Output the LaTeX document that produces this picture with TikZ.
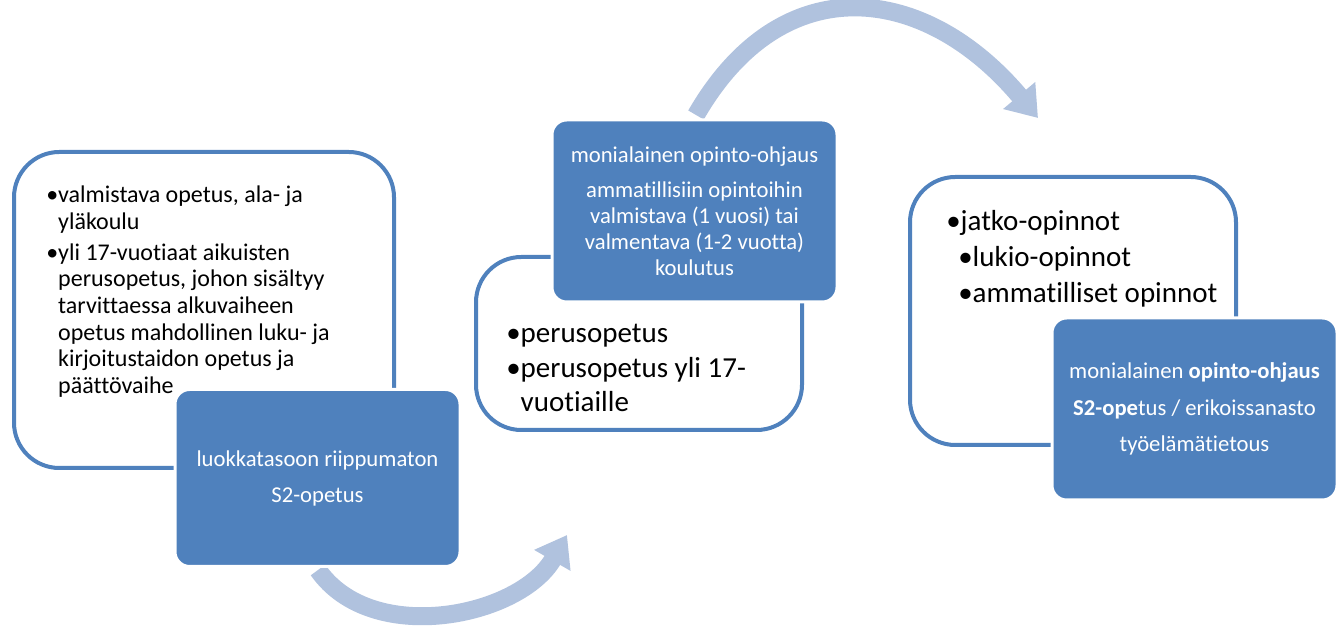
\documentclass[tikz,border=0pt]{standalone}
\usepackage{fontspec}
\setmainfont{Carlito}[Ligatures=NoCommon]
\usetikzlibrary{arrows.meta}
\definecolor{boxblue}{RGB}{79,129,189}
\definecolor{arrowblue}{RGB}{176,194,222}

\begin{document}
\begin{tikzpicture}[x=0.75pt,y=0.75pt,
    frame/.style={draw=boxblue,line width=3pt,rounded corners=34pt,fill=white},
    tag/.style={fill=boxblue,draw=white,line width=2.25pt,rounded corners=11pt,
      text=white,align=center,inner sep=0pt,font=\fontsize{17}{19.5}\selectfont},
    flow/.style={draw=arrowblue,line width=13.5pt,-{Triangle[width=30pt,length=22pt]}}]
  \useasboundingbox (0,0) rectangle (1342,627);

  % arrows behind the boxes
  \coordinate (b1) at (318,57);
  \coordinate (b2) at (567,92);
  \coordinate (t1) at (696,512);
  \coordinate (t2) at (1038,509);
  \path[flow] (b1) to[out=-55,in=-120,looseness=0.96] (b2);
  \path[flow] (t1) to[out=60,in=130,looseness=1.3] (t2);

  % first step
  \node[frame,minimum width=285pt,minimum height=237pt] (f1) at (204,317) {};
  \node[anchor=north west,inner sep=0pt,align=left,
        font=\fontsize{18}{20}\selectfont] (l1) at (46,441)
    {•valmistava opetus, ala- ja\\
     \phantom{•}yläkoulu\\[3pt]
     •yli 17-vuotiaat aikuisten\\
     \phantom{•}perusopetus, johon sisältyy\\
     \phantom{•}tarvittaessa alkuvaiheen\\
     \phantom{•}opetus mahdollinen luku- ja\\
     \phantom{•}kirjoitustaidon opetus ja\\
     \phantom{•}päättövaihe};
  \node[tag,minimum width=213.75pt,minimum height=132.75pt] (s1) at (317.5,149)
    {luokkatasoon riippumaton\\[7.5pt] S2-opetus};

  % second step
  \node[frame,minimum width=244.5pt,minimum height=129.75pt] (f2) at (639,283.5) {};
  \node[anchor=north west,inner sep=0pt,align=left,
        font=\fontsize{21.75}{25.5}\selectfont] (l2) at (506,303)
    {•perusopetus\\[1pt]
     •perusopetus yli 17-\\
     \phantom{•}vuotiaille};
  \node[tag,minimum width=213.75pt,minimum height=136.5pt] (s2) at (694.5,416)
    {monialainen opinto-ohjaus\\[6.75pt]
     ammatillisiin opintoihin\\
     valmistava (1 vuosi) tai\\
     valmentava (1-2 vuotta)\\
     koulutus};

  % third step
  \node[frame,minimum width=244.5pt,minimum height=201pt] (f3) at (1073,316) {};
  \node[anchor=north west,inner sep=0pt,align=left,
        font=\fontsize{21.75}{25.5}\selectfont] (l3) at (946,417)
    {•jatko-opinnot\\[1.5pt]
     \hspace{9pt}•lukio-opinnot\\[1.5pt]
     \hspace{9pt}•ammatilliset opinnot};
  \node[tag,minimum width=213.75pt,minimum height=136.5pt] (s3) at (1194.5,218)
    {monialainen \textbf{opinto-ohjaus}\\[8pt]
     \textbf{S2-ope}tus / erikoissanasto\\[8pt]
     työelämätietous};
\end{tikzpicture}
\end{document}
